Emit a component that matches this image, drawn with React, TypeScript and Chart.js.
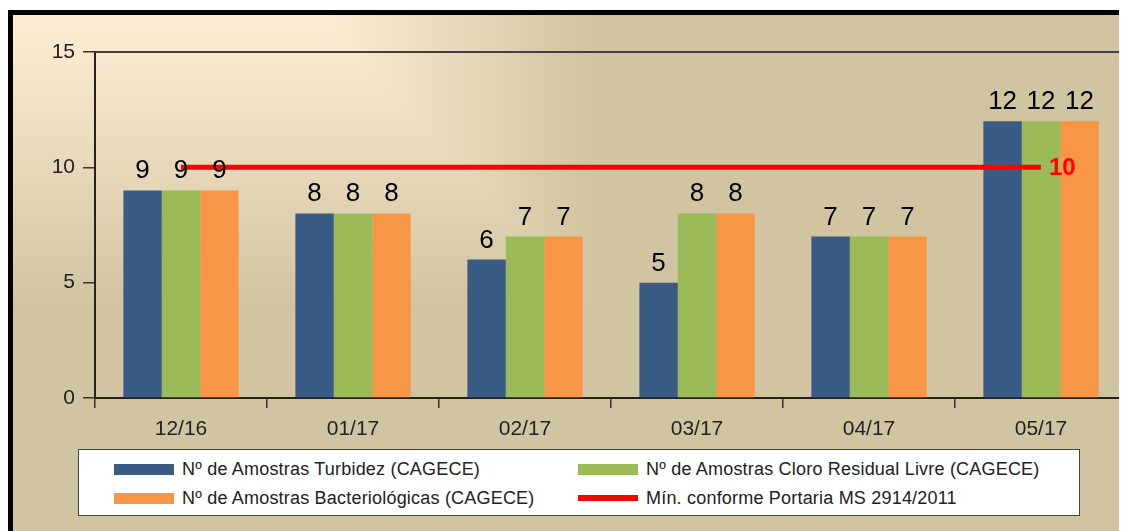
import React, { useEffect, useRef } from "react";
import { Chart, registerables } from "chart.js";

Chart.register(...registerables);

const categories = ["12/16", "01/17", "02/17", "03/17", "04/17", "05/17"];
const turbidez = [9, 8, 6, 5, 7, 12];
const cloro = [9, 8, 7, 8, 7, 12];
const bacteriologicas = [9, 8, 7, 8, 7, 12];
const minimoPortaria = [10, 10, 10, 10, 10, 10];
const yMin = 0;
const yMax = 15;
const yStep = 5;

const seriesLabels = [
  "Nº de Amostras Turbidez (CAGECE)",
  "Nº de Amostras Cloro Residual Livre (CAGECE)",
  "Nº de Amostras Bacteriológicas (CAGECE)",
  "Mín. conforme Portaria MS 2914/2011",
];
const seriesColors = ["#3A5B83", "#9BBB59", "#F79646", "#FF0000"];

const FONT = "'Liberation Sans', Arial, sans-serif";

const bgPlugin = {
  id: "bgPlugin",
  beforeDraw(chart: any) {
    const ctx = chart.ctx;
    const x0 = 5;
    const y0 = 7;
    const W = chart.width;
    const H = chart.height;
    ctx.save();
    const c0 = [252, 237, 212];
    const c1 = [209, 196, 160];
    ctx.fillStyle = `rgb(${c1.join(",")})`;
    ctx.fillRect(x0, y0, W - x0, H - y0);
    const steps = 270;
    for (let d = steps; d >= 0; d -= 2) {
      const t = d / steps;
      const c = c0.map((v, i) => Math.round(v + (c1[i] - v) * t));
      ctx.fillStyle = `rgb(${c.join(",")})`;
      ctx.fillRect(x0, y0, 317 + d - x0, 17 + d * 1.05 - y0);
    }
    ctx.restore();
  },
};

const framePlugin = {
  id: "framePlugin",
  beforeDatasetsDraw(chart: any) {
    const { ctx, chartArea } = chart;
    ctx.save();
    ctx.strokeStyle = "#404040";
    ctx.lineWidth = 2;
    ctx.beginPath();
    ctx.moveTo(chartArea.left, chartArea.top);
    ctx.lineTo(chartArea.right, chartArea.top);
    ctx.stroke();
    ctx.strokeStyle = "#9a9078";
    ctx.lineWidth = 1;
    ctx.beginPath();
    ctx.moveTo(chartArea.right - 1.5, chartArea.top);
    ctx.lineTo(chartArea.right - 1.5, chartArea.bottom);
    ctx.stroke();
    ctx.restore();
  },
};

const labelPlugin = {
  id: "labelPlugin",
  afterDatasetsDraw(chart: any) {
    const ctx = chart.ctx;
    ctx.save();
    chart.data.datasets.forEach((ds: any, i: number) => {
      const meta = chart.getDatasetMeta(i);
      if (ds.type === "line") {
        const last = meta.data[meta.data.length - 1];
        ctx.font = `bold 24px ${FONT}`;
        ctx.fillStyle = "#FF0000";
        ctx.textAlign = "left";
        ctx.textBaseline = "middle";
        ctx.fillText(String(ds.data[ds.data.length - 1]), last.x + 8, last.y + 1);
        return;
      }
      ctx.font = `26px ${FONT}`;
      ctx.fillStyle = "#000";
      ctx.textAlign = "center";
      ctx.textBaseline = "alphabetic";
      meta.data.forEach((el: any, j: number) => {
        ctx.fillText(String(ds.data[j]), el.x, el.y - 12);
      });
    });
    ctx.restore();
  },
};

function ChartCanvas() {
  const ref = useRef<HTMLCanvasElement | null>(null);
  useEffect(() => {
    if (!ref.current) return;
    const chart = new Chart(ref.current, {
      type: "bar",
      data: {
        labels: categories,
        datasets: [
          {
            type: "line",
            label: seriesLabels[3],
            data: minimoPortaria,
            borderColor: seriesColors[3],
            backgroundColor: seriesColors[3],
            borderWidth: 5,
            borderCapStyle: "butt",
            pointRadius: 0,
            order: 0,
          } as any,
          {
            label: seriesLabels[0],
            data: turbidez,
            backgroundColor: seriesColors[0],
            order: 1,
          },
          {
            label: seriesLabels[1],
            data: cloro,
            backgroundColor: seriesColors[1],
            order: 1,
          },
          {
            label: seriesLabels[2],
            data: bacteriologicas,
            backgroundColor: seriesColors[2],
            order: 1,
          },
        ],
      },
      options: {
        responsive: false,
        animation: false,
        datasets: {
          bar: { categoryPercentage: 0.67, barPercentage: 1.0 },
        },
        layout: { padding: { left: 0, top: 44, right: 0, bottom: 0 } },
        plugins: {
          legend: { display: false },
          tooltip: { enabled: false },
        },
        scales: {
          x: {
            grid: {
              display: true,
              drawOnChartArea: false,
              drawTicks: true,
              tickLength: 10,
              color: "#333",
              lineWidth: 1.5,
              offset: true,
            },
            border: { display: true, color: "#222", width: 2 },
            ticks: { color: "#222", font: { family: FONT, size: 21 }, padding: 9 },
            afterFit(scale: any) {
              scale.height = 133;
            },
          },
          y: {
            min: yMin,
            max: yMax,
            grid: {
              display: true,
              drawOnChartArea: false,
              drawTicks: true,
              tickLength: 12,
              color: "#333",
              lineWidth: 1.5,
            },
            border: { display: true, color: "#222", width: 2 },
            ticks: {
              stepSize: yStep,
              color: "#222",
              font: { family: FONT, size: 21 },
              padding: 8,
            },
            afterFit(scale: any) {
              scale.width = 87;
            },
          },
        },
      } as any,
      plugins: [bgPlugin, framePlugin, labelPlugin],
    });
    return () => chart.destroy();
  }, []);
  return (
    <canvas
      ref={ref}
      width={1119}
      height={523}
      style={{ position: "absolute", left: 0, top: 0, width: 1119, height: 523 }}
    />
  );
}

function LegendItem({ left, top, color, thin, text }: any) {
  return (
    <div
      style={{
        position: "absolute",
        left,
        top: top - 11,
        height: 22,
        display: "flex",
        alignItems: "center",
        whiteSpace: "nowrap",
      }}
    >
      <span
        style={{
          display: "inline-block",
          width: 60,
          height: thin ? 6 : 11,
          background: color,
          marginRight: 8,
        }}
      />
      <span style={{ letterSpacing: "0.2px" }}>{text}</span>
    </div>
  );
}

export default function App() {
  return (
    <div style={{ position: "relative", width: 1119, height: 523, overflow: "hidden" }}>
      <div
        style={{
          position: "absolute",
          left: 0,
          top: 2,
          width: 1200,
          height: 600,
          border: "5px solid #000",
          boxSizing: "border-box",
        }}
      />
      <ChartCanvas />
      <div
        style={{
          position: "absolute",
          left: 70,
          top: 441,
          width: 1002,
          height: 67,
          background: "#fff",
          border: "1px solid #444",
          boxSizing: "border-box",
          fontFamily: FONT,
          fontSize: 18,
          color: "#222",
        }}
      >
        <LegendItem left={35} top={19} color={seriesColors[0]} text={seriesLabels[0]} />
        <LegendItem left={499} top={19} color={seriesColors[1]} text={seriesLabels[1]} />
        <LegendItem left={35} top={48} color={seriesColors[2]} text={seriesLabels[2]} />
        <LegendItem left={499} top={48} color={seriesColors[3]} thin text={seriesLabels[3]} />
      </div>
    </div>
  );
}
